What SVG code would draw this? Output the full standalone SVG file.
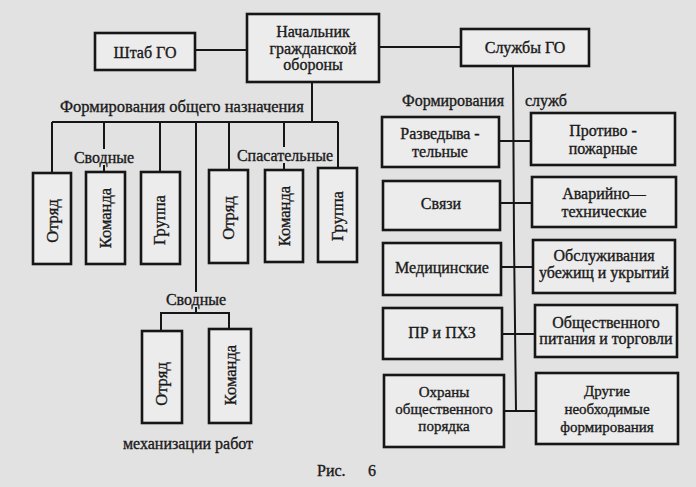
<svg xmlns="http://www.w3.org/2000/svg" width="696" height="487" viewBox="0 0 696 487" font-family="'Liberation Serif', 'DejaVu Serif', serif">
<style>
.bx{fill:#ececec;stroke:#161616;stroke-width:2.6}
.ln{fill:none;stroke:#161616;stroke-width:2}
text{font-family:'Liberation Serif','DejaVu Serif',serif;font-size:16px;fill:#1a1a1a;stroke:#1a1a1a;stroke-width:0.35;text-anchor:middle;dominant-baseline:central}
.l{text-anchor:start}
.v{font-size:16.5px}
.s{font-size:15px}
</style>
<rect width="696" height="487" fill="#e2e2e2"/>
<g id="connectors">
<line class="ln" x1="195" y1="50" x2="247" y2="50"/>
<line class="ln" x1="379" y1="47" x2="461" y2="47"/>
<line class="ln" x1="312" y1="82" x2="312" y2="122"/>
<line class="ln" x1="52" y1="122" x2="338" y2="122"/>
<line class="ln" x1="52" y1="122" x2="52" y2="173"/>
<line class="ln" x1="104" y1="122" x2="104" y2="149"/>
<line class="ln" x1="104" y1="165" x2="104" y2="172"/>
<line class="ln" x1="160" y1="122" x2="160" y2="172"/>
<line class="ln" x1="196" y1="122" x2="196" y2="292"/>
<line class="ln" x1="229" y1="122" x2="229" y2="170"/>
<line class="ln" x1="284" y1="122" x2="284" y2="147"/>
<line class="ln" x1="284" y1="163" x2="284" y2="170"/>
<line class="ln" x1="338" y1="122" x2="338" y2="168"/>
<line class="ln" x1="196" y1="307" x2="196" y2="313"/>
<polyline class="ln" points="161,330 161,313 229,313 229,329"/>
<polyline class="ln" points="513,66 514,240 516,411"/>
<line class="ln" x1="499" y1="141" x2="531" y2="141"/>
<line class="ln" x1="500" y1="203" x2="532" y2="203"/>
<line class="ln" x1="501" y1="267" x2="533" y2="267"/>
<line class="ln" x1="502" y1="334" x2="535" y2="334"/>
<line class="ln" x1="504" y1="411" x2="536" y2="411"/>
</g>
<g id="shtab"><rect class="bx" x="95" y="33" width="100" height="37"/><text x="145" y="52">Штаб ГО</text></g>
<g id="nachalnik"><rect class="bx" x="247" y="14" width="132" height="68"/><text x="313" y="31">Начальник</text><text x="313" y="48">гражданской</text><text x="313" y="64">обороны</text></g>
<g id="sluzhby"><rect class="bx" x="461" y="29" width="128" height="37"/><text x="525" y="47">Службы ГО</text></g>
<g id="labels">
<text class="l" x="60" y="106" font-size="16.5" style="font-size:16.5px">Формирования общего назначения</text>
<text x="104" y="157">Сводные</text>
<text x="285" y="155">Спасательные</text>
<text class="l" x="402" y="100">Формирования</text>
<text class="l" x="525" y="100">служб</text>
<text x="196" y="299">Сводные</text>
<text x="188" y="443">механизации  работ</text>
<text class="l" x="317" y="470">Рис.</text>
<text x="372" y="470">6</text>
</g>
<g id="otryad1"><rect class="bx" x="33" y="173" width="38" height="91"/><text class="v" transform="translate(52,221) rotate(-90)">Отряд</text></g>
<g id="komanda1"><rect class="bx" x="86" y="172" width="39" height="92"/><text class="v" transform="translate(105,218) rotate(-90)">Команда</text></g>
<g id="gruppa1"><rect class="bx" x="141" y="172" width="39" height="92"/><text class="v" transform="translate(159,220) rotate(-90)">Группа</text></g>
<g id="otryad2"><rect class="bx" x="209" y="170" width="39" height="93"/><text class="v" transform="translate(228,218) rotate(-90)">Отряд</text></g>
<g id="komanda2"><rect class="bx" x="265" y="170" width="38" height="92"/><text class="v" transform="translate(284,216) rotate(-90)">Команда</text></g>
<g id="gruppa2"><rect class="bx" x="318" y="168" width="39" height="94"/><text class="v" transform="translate(337,216) rotate(-90)">Группа</text></g>
<g id="otryad3"><rect class="bx" x="142" y="331" width="40" height="92"/><text class="v" transform="translate(161,384) rotate(-90)">Отряд</text></g>
<g id="komanda3"><rect class="bx" x="209" y="329" width="42" height="94"/><text class="v" transform="translate(230,375) rotate(-90)">Команда</text></g>
<g id="razved"><rect class="bx" x="382" y="117" width="117" height="50"/><text x="440" y="133">Разведыва -</text><text x="440" y="151">тельные</text></g>
<g id="protivo"><rect class="bx" x="531" y="113" width="144" height="52"/><text x="603" y="130">Противо -</text><text x="603" y="148">пожарные</text></g>
<g id="svyazi"><rect class="bx" x="383" y="181" width="117" height="49"/><text x="441" y="203">Связи</text></g>
<g id="avariyno"><rect class="bx" x="532" y="177" width="144" height="50"/><text x="604" y="193">Аварийно—</text><text x="604" y="211">технические</text></g>
<g id="medic"><rect class="bx" x="383" y="243" width="118" height="52"/><text x="442" y="267">Медицинские</text></g>
<g id="obsluzh"><rect class="bx" x="533" y="240" width="142" height="53"/><text x="604" y="255">Обслуживания</text><text x="604" y="272">убежищ и укрытий</text></g>
<g id="prphz"><rect class="bx" x="383" y="308" width="119" height="51"/><text x="442" y="332">ПР и ПХЗ</text></g>
<g id="obshch"><rect class="bx" x="535" y="305" width="142" height="52"/><text x="606" y="322">Общественного</text><text x="606" y="338">питания и торговли</text></g>
<g id="ohrany"><rect class="bx" x="384" y="375" width="120" height="72"/><text class="s" x="444" y="392">Охраны</text><text class="s" x="444" y="409">общественного</text><text class="s" x="444" y="426">порядка</text></g>
<g id="drugie"><rect class="bx" x="536" y="373" width="142" height="71"/><text class="s" x="607" y="391">Другие</text><text class="s" x="607" y="409">необходимые</text><text class="s" x="607" y="427">формирования</text></g>
</svg>
